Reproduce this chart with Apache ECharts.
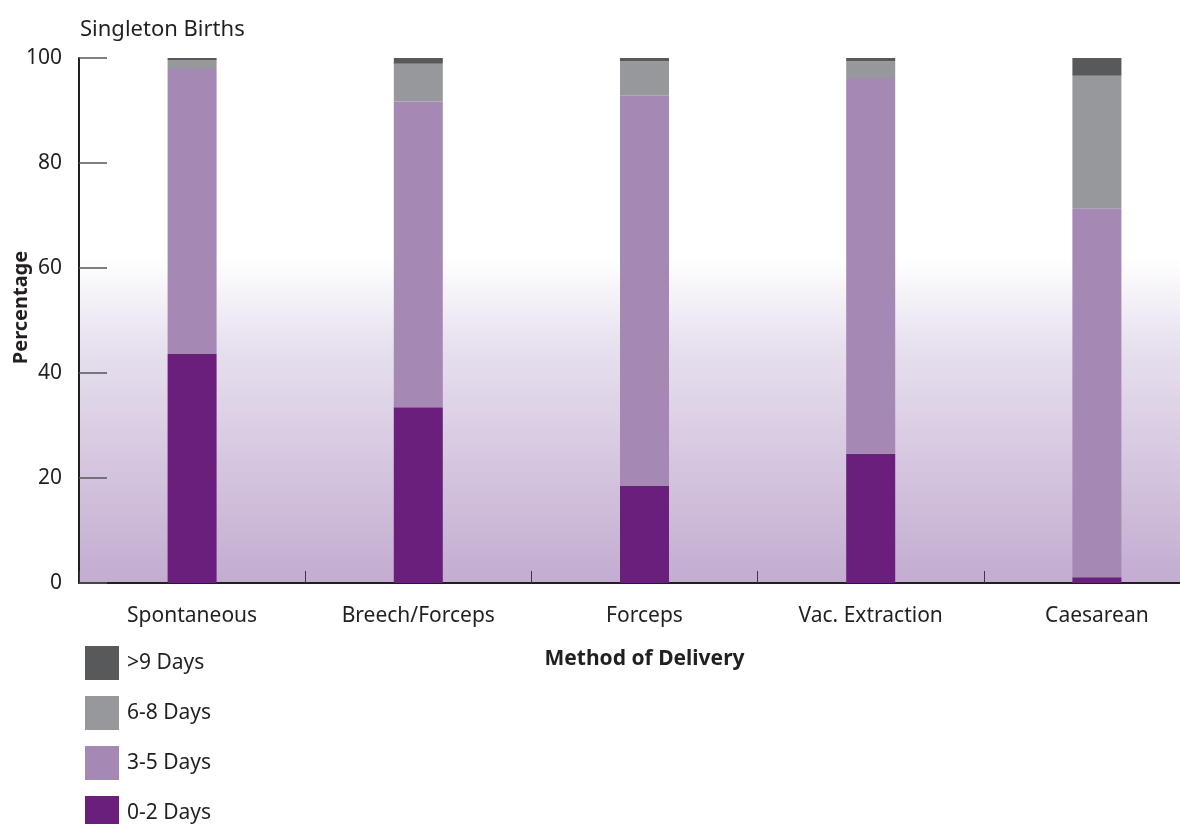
<!DOCTYPE html>
<html>
<head>
<meta charset="utf-8">
<script src="https://cdn.jsdelivr.net/npm/echarts@6/dist/echarts.min.js"></script>
<style>
  html, body { margin: 0; padding: 0; background: #fff; overflow: hidden; }
  /* plot runs past the right edge of the window, like the original */
  #main { width: 1210px; height: 824px; }
</style>
</head>
<body>
<div id="main"></div>
<script>
// categories and values (percent of births)
const methods = ['Spontaneous', 'Breech/Forceps', 'Forceps', 'Vac. Extraction', 'Caesarean']
const days0to2 = [43.6, 33.5, 18.5, 24.6, 1.1]
const days3to5 = [54.3, 58.2, 74.3, 71.6, 70.3]
const days6to8 = [1.7, 7.2, 6.6, 3.2, 25.2]
const daysOver9 = [0.4, 1.1, 0.6, 0.6, 3.4]
const yTicks = [0, 20, 40, 60, 80, 100]

const textColor = '#231f20'
const font = 'Noto Sans'

var myChart = echarts.init(document.getElementById('main'))

function bar(name, data, color) {
    return {
        name: name,
        type: 'bar',
        stack: 'total',
        barWidth: 49,
        data: data,
        itemStyle: { color: color }
    }
}

var option = {
    animation: false,
    textStyle: { fontFamily: font, color: textColor },
    title: {
        text: 'Singleton Births',
        left: 75,
        top: 14,
        textStyle: { fontSize: 22, fontWeight: 'normal', color: textColor, fontFamily: font }
    },
    legend: {
        orient: 'vertical',
        left: 80,
        top: 641,
        height: 200,
        itemWidth: 34,
        itemHeight: 34,
        itemGap: 16,
        icon: 'rect',
        data: ['>9 Days', '6-8 Days', '3-5 Days', '0-2 Days'],
        textStyle: { fontSize: 21, color: textColor, fontFamily: font, padding: [0, 0, 0, 3] }
    },
    grid: {
        left: 79,
        top: 58,
        bottom: 241,
        right: 0,
        outerBoundsMode: 'none',
        containLabel: false,
        show: true,
        borderWidth: 0,
        backgroundColor: {
            type: 'linear', x: 0, y: 0, x2: 0, y2: 1,
            colorStops: [
                { offset: 0, color: '#ffffff' },
                { offset: 0.38, color: '#ffffff' },
                { offset: 0.55, color: '#e7e0ee' },
                { offset: 1, color: '#c3acd0' }
            ]
        }
    },
    xAxis: {
        type: 'category',
        data: methods,
        name: 'Method of Delivery',
        nameLocation: 'middle',
        nameGap: 66,
        nameMoveOverlap: false,
        nameTextStyle: { fontSize: 21, fontWeight: 'bold', color: textColor, fontFamily: font },
        axisLine: { lineStyle: { color: textColor, width: 2 } },
        axisTick: { show: true, inside: true, length: 12, lineStyle: { color: '#3a3a3a', width: 1 } },
        axisLabel: { fontSize: 21, color: textColor, margin: 23, fontFamily: font }
    },
    yAxis: {
        type: 'value',
        min: yTicks[0],
        max: yTicks[yTicks.length - 1],
        interval: 20,
        name: 'Percentage',
        nameLocation: 'middle',
        nameGap: 48,
        nameMoveOverlap: false,
        nameTextStyle: { fontSize: 20, fontWeight: 'bold', color: textColor, fontFamily: font, padding: [0, 0, 0, 26] },
        axisLine: { show: true, lineStyle: { color: textColor, width: 2 } },
        axisTick: { show: true, inside: true, length: 28, lineStyle: { color: '#555555', width: 1.5 } },
        splitLine: { show: false },
        axisLabel: { fontSize: 21, color: textColor, margin: 17, fontFamily: font }
    },
    series: [
        bar('0-2 Days', days0to2, '#6a1f7d'),
        bar('3-5 Days', days3to5, '#a688b5'),
        bar('6-8 Days', days6to8, '#97989b'),
        bar('>9 Days', daysOver9, '#58595b')
    ]
}

myChart.setOption(option)
</script>
</body>
</html>
